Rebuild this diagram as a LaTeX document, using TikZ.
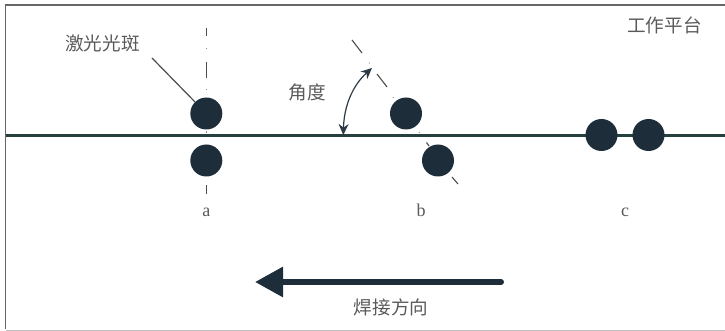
\documentclass[tikz,border=0pt]{standalone}
\usepackage{fontspec}
\setmainfont{Liberation Serif}
\newfontfamily\cjk{Noto Sans CJK SC}
\usetikzlibrary{arrows.meta}
\definecolor{spot}{HTML}{1E2D3A}
\definecolor{linec}{HTML}{25403F}
\definecolor{txt}{HTML}{5A5A5A}
\tikzset{
  x=1pt,y=-1pt,
  spotnode/.style={circle,fill=spot,minimum size=32pt,inner sep=0pt},
  label/.style={text=txt,font=\cjk\fontsize{18.6}{19}\selectfont,inner sep=0pt},
  letter/.style={text=txt,font=\fontsize{18}{18}\selectfont,inner sep=0pt},
  axisline/.style={draw=black!70,line width=1.1pt},
  axisdot/.style={draw=black!45,line width=.8pt},
  framerule/.style={draw=black!60,line width=1.6pt},
}
\begin{document}
\begin{tikzpicture}
\useasboundingbox (0,0) rectangle (725,331);
\draw[framerule] (725,5) -- (5.5,5) -- (5.5,329);
\draw[draw=black!25,line width=1pt] (5.5,330) -- (725,330);
\coordinate (worka) at (5.5,135.7);
\coordinate (workb) at (725,135.7);
\draw[draw=linec,line width=2.6pt] (worka) -- (workb);
\node[spotnode] (a1) at (206.3,113.5) {};
\node[spotnode] (a2) at (206.3,160.5) {};
\node[spotnode] (b1) at (406,113.5) {};
\node[spotnode] (b2) at (438,160.5) {};
\node[spotnode] (c1) at (601.5,135) {};
\node[spotnode] (c2) at (648.5,135) {};
% axis a
\draw[axisline] (206.3,28) -- (206.3,36);
\draw[axisdot] (206.3,48.5) -- (206.3,49.5);
\draw[axisline] (206.3,62) -- (206.3,78);
\draw[axisdot] (206.3,89.5) -- (206.3,90.5);
\draw[axisdot] (206.3,131) -- (206.3,133);
\draw[axisdot] (206.3,144) -- (206.3,145);
\draw[axisline] (206.3,185) -- (206.3,194);
% axis b
\draw[axisline] (352,40) -- (362,53);
\draw[axisdot] (369,62.5) -- (369.5,63.5);
\draw[axisline] (377,74) -- (387,87);
\draw[axisdot] (393,97) -- (393.5,98);
\draw[axisdot] (419,132) -- (419.5,133);
\draw[axisline] (426.5,142.5) -- (429,146);
\draw[axisline] (452,177) -- (458,184);
% leader
\node[label] (lab) at (102.5,43) {激光光斑};
\coordinate (leadstart) at (152,58);
\draw[black!70,line width=1.2pt] (leadstart) -- (a1);
% angle
\coordinate (ang1) at (343.3,135);
\coordinate (ang2) at (372,68);
\draw[draw=spot!85!gray,line width=1.2pt,{Stealth[length=11pt,width=10pt]}-{Stealth[length=11pt,width=10pt]}] (ang1) .. controls (344,107) and (352,86) .. (ang2);
\node[label] (anglab) at (307.5,92) {角度};
\node[label] (platform) at (664.5,25) {工作平台};
\node[letter] (la) at (206.3,212) {a};
\node[letter] (lb) at (421,210) {b};
\node[letter] (lc) at (625,212) {c};
% direction
\coordinate (dirS) at (501,282);
\coordinate (dirE) at (255,282);
\draw[draw=spot,line width=6pt,line cap=round,-{Triangle[length=28pt,width=29pt]}] (dirS) -- (dirE);
\node[label] (dir) at (391,307) {焊接方向};
\end{tikzpicture}
\end{document}
